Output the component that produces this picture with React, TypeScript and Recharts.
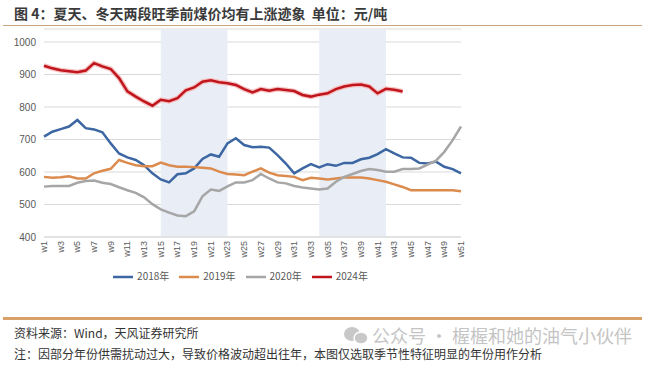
import {
  CartesianGrid,
  Legend,
  Line,
  LineChart,
  ReferenceArea,
  XAxis,
  YAxis,
} from "recharts";

const weeks = [
  "w1", "w2", "w3", "w4", "w5", "w6", "w7", "w8", "w9", "w10",
  "w11", "w12", "w13", "w14", "w15", "w16", "w17", "w18", "w19", "w20",
  "w21", "w22", "w23", "w24", "w25", "w26", "w27", "w28", "w29", "w30",
  "w31", "w32", "w33", "w34", "w35", "w36", "w37", "w38", "w39", "w40",
  "w41", "w42", "w43", "w44", "w45", "w46", "w47", "w48", "w49", "w50",
  "w51",
];

const y2018 = [
  709, 724, 732, 740, 760, 735, 731, 722, 688, 657,
  645, 637, 621, 596, 577, 568, 593, 596, 611, 640,
  654, 647, 688, 704, 683, 676, 678, 675, 652, 626,
  596, 611, 624, 614, 624, 619, 628, 628, 639, 644,
  655, 670, 657, 645, 644, 628, 626, 632, 616, 609,
  596,
];

const y2019 = [
  585, 582, 584, 587, 580, 580, 596, 604, 610, 637,
  628, 621, 618, 618, 629, 621, 616, 616, 615, 613,
  611, 601, 594, 592, 590, 601, 611, 598, 590, 588,
  585, 575, 582, 580, 577, 580, 583, 583, 583, 580,
  575, 570, 562, 554, 544, 544, 544, 544, 544, 544,
  541,
];

const y2020 = [
  555, 557, 557, 557, 567, 572, 574, 567, 563, 553,
  544, 536, 522, 501, 485, 475, 466, 464, 479, 525,
  546, 542, 556, 568, 568, 575, 594, 580, 568, 565,
  557, 552, 549, 546, 549, 570, 585, 594, 603, 609,
  606, 601, 601, 609, 609, 611, 623, 635, 662, 698,
  740,
];

// 2024 only runs to w44
const y2024 = [
  927, 919, 913, 910, 907, 912, 935, 925, 917, 889,
  848, 832, 817, 804, 822, 818, 827, 851, 860, 878,
  882, 876, 873, 868, 855, 845, 855, 850, 855, 852,
  849, 837, 832, 838, 842, 855, 863, 868, 869, 863,
  842, 856, 853, 848,
];

// peak-season shading (week ranges)
const seasons = [
  ["w15", "w23"],
  ["w34", "w42"],
];

const yTicks = [400, 500, 600, 700, 800, 900, 1000];

const data = weeks.map((week, i) => ({
  week,
  y2018: y2018[i],
  y2019: y2019[i],
  y2020: y2020[i],
  y2024: i < y2024.length ? y2024[i] : null,
}));

const FONT = '"Liberation Sans", Arial, "Noto Sans CJK SC", sans-serif';
const CJK = '"Noto Sans CJK SC", "Liberation Sans", sans-serif';

const WeekTick = (props: any) => {
  const { x, y, payload } = props;
  const ty = y - 4;
  return (
    <text
      x={x}
      y={ty}
      transform={`rotate(-90 ${x} ${ty})`}
      textAnchor="end"
      dominantBaseline="central"
      fontSize={9}
      fill="#595959"
      fontFamily={FONT}
    >
      {payload.value}
    </text>
  );
};

export default function App() {
  return (
    <div
      style={{
        position: "fixed",
        left: 0,
        top: 0,
        width: 657,
        height: 373,
        background: "#fff",
        overflow: "hidden",
        fontFamily: CJK,
      }}
    >
      <div
        style={{
          position: "absolute",
          left: 14,
          top: 4,
          fontSize: 14,
          lineHeight: "18px",
          fontWeight: 700,
          color: "#3a3a3a",
          whiteSpace: "nowrap",
        }}
      >
        图 4：夏天、冬天两段旺季前煤价均有上涨迹象&nbsp;&nbsp;单位：元/吨
      </div>
      <div
        style={{
          position: "absolute",
          left: 3,
          top: 25,
          width: 639,
          height: 1,
          background: "#c9a47c",
        }}
      />

      <div style={{ position: "absolute", left: 0, top: 0, fontFamily: FONT }}>
        <LineChart
          width={496}
          height={300}
          data={data}
          margin={{ top: 29, right: 35, bottom: 13, left: 0 }}
        >
          <CartesianGrid stroke="#d9d9d9" vertical={false} />
          {seasons.map(([a, b]) => (
            <ReferenceArea
              key={a}
              x1={a}
              x2={b}
              y1={400}
              y2={1040}
              fill="#e8edf6"
              fillOpacity={1}
              stroke="none"
            />
          ))}
          <XAxis
            dataKey="week"
            interval={1}
            height={30}
            tick={<WeekTick />}
            tickLine={false}
            axisLine={{ stroke: "#d9d9d9" }}
          />
          <YAxis
            domain={[400, 1040]}
            ticks={yTicks}
            width={44}
            tick={{ fontSize: 10, fill: "#595959" }}
            tickLine={false}
            axisLine={false}
          />
          <Legend
            verticalAlign="bottom"
            height={20}
            iconType="plainline"
            iconSize={20}
            wrapperStyle={{ fontSize: 10, fontFamily: CJK, left: 15 }}
            formatter={(value) => <span style={{ color: "#595959" }}>{value}</span>}
          />
          <Line
            dataKey="y2018"
            name="2018年"
            stroke="#3d67a3"
            strokeWidth={2.5}
            dot={false}
            isAnimationActive={false}
          />
          <Line
            dataKey="y2019"
            name="2019年"
            stroke="#dc8b4e"
            strokeWidth={2.5}
            dot={false}
            isAnimationActive={false}
          />
          <Line
            dataKey="y2020"
            name="2020年"
            stroke="#a6a6a6"
            strokeWidth={2.5}
            dot={false}
            isAnimationActive={false}
          />
          <Line
            dataKey="y2024"
            name="halo"
            legendType="none"
            stroke="#f5c2c2"
            strokeWidth={5}
            dot={false}
            isAnimationActive={false}
          />
          <Line
            dataKey="y2024"
            name="2024年"
            stroke="#c0151d"
            strokeWidth={2.5}
            dot={false}
            isAnimationActive={false}
          />
        </LineChart>
      </div>

      <div
        style={{
          position: "absolute",
          left: 3,
          top: 317,
          width: 639,
          height: 3,
          background: "#d9a067",
        }}
      />
      <div
        style={{
          position: "absolute",
          left: 14,
          top: 326,
          fontSize: 12,
          lineHeight: "14px",
          color: "#333",
          whiteSpace: "nowrap",
        }}
      >
        资料来源：Wind，天风证券研究所
      </div>
      <svg
        width={30}
        height={20}
        style={{ position: "absolute", left: 341, top: 326 }}
      >
        <ellipse cx={11} cy={8} rx={8} ry={7} fill="#c8c8c8" />
        <ellipse cx={20} cy={12} rx={7} ry={6} fill="#c8c8c8" stroke="#fff" strokeWidth={1.5} />
      </svg>
      <div
        style={{
          position: "absolute",
          left: 372,
          top: 326,
          fontSize: 18,
          lineHeight: "18px",
          color: "#c4c4c4",
          whiteSpace: "nowrap",
        }}
      >
        公众号 · 楃楃和她的油气小伙伴
      </div>
      <div
        style={{
          position: "absolute",
          left: 14,
          top: 347,
          fontSize: 12,
          lineHeight: "13px",
          color: "#333",
          whiteSpace: "nowrap",
        }}
      >
        注：因部分年份供需扰动过大，导致价格波动超出往年，本图仅选取季节性特征明显的年份用作分析
      </div>
    </div>
  );
}
